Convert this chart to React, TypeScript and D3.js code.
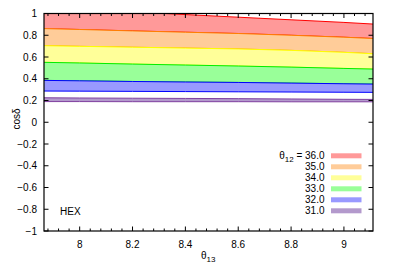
import * as d3 from 'd3';
import React from 'react';

const theta13 = [7.865, 8.0, 8.2, 8.4, 8.6, 8.8, 9.0, 9.11];

// upper / lower boundary of cos(delta) for each theta12 value
const upper36 = [1.06, 1.042, 1.016, 0.99, 0.966, 0.942, 0.918, 0.903];
const upper35 = [0.861, 0.853, 0.84, 0.828, 0.816, 0.8, 0.782, 0.77];
const upper34 = [0.704, 0.698, 0.69, 0.682, 0.674, 0.661, 0.643, 0.63];
const upper33 = [0.551, 0.545, 0.535, 0.526, 0.517, 0.507, 0.495, 0.489];
const upper32 = [0.385, 0.381, 0.375, 0.37, 0.366, 0.36, 0.354, 0.351];
const lower32 = [0.287, 0.286, 0.284, 0.282, 0.28, 0.278, 0.276, 0.275];
const upper31 = [0.225, 0.223, 0.221, 0.219, 0.217, 0.214, 0.211, 0.21];
const lower31 = [0.19, 0.19, 0.189, 0.189, 0.189, 0.188, 0.188, 0.188];

const theta12Labels = ['36.0', '35.0', '34.0', '33.0', '32.0', '31.0'];
const fills = ['#ff9999', '#ffcc99', '#ffff99', '#99ff99', '#9999ff', '#b399cc'];
const strokes = ['#ff0000', '#ff8000', '#ffff00', '#00ee00', '#0000ff', '#7f3f9f'];

const bands = [
  { top: upper36, bottom: upper35 },
  { top: upper35, bottom: upper34 },
  { top: upper34, bottom: upper33 },
  { top: upper33, bottom: upper32 },
  { top: upper32, bottom: lower32 },
  { top: upper31, bottom: lower31 },
];

const xTicks = [8, 8.2, 8.4, 8.6, 8.8, 9];
const yTicks = [-1, -0.8, -0.6, -0.4, -0.2, 0, 0.2, 0.4, 0.6, 0.8, 1];

const W = 399;
const H = 279;
const left = 44;
const right = 373;
const top = 13.5;
const bottom = 231;

const font = 'Liberation Sans, Arial, Helvetica, sans-serif';

export default function App() {
  const x = d3.scaleLinear().domain([7.865, 9.11]).range([left, right]);
  const y = d3.scaleLinear().domain([-1, 1]).range([bottom, top]);

  const minorX = d3.range(7.88, 9.11, 0.04).filter(
    (v) => !xTicks.some((t) => Math.abs(t - v) < 1e-6)
  );

  const area = d3
    .area<number>()
    .x((_, i) => x(theta13[i]))
    .y0((_, i) => 0)
    .y1((d) => y(d));

  const line = d3
    .line<number>()
    .x((_, i) => x(theta13[i]))
    .y((d) => y(d));

  return (
    <svg
      width={W}
      height={H}
      style={{ position: 'absolute', left: 0, top: 0, background: '#fff' }}
      fontFamily={font}
    >
      <defs>
        <clipPath id="plot">
          <rect x={left} y={top} width={right - left} height={bottom - top} />
        </clipPath>
      </defs>

      <g clipPath="url(#plot)">
        {bands.map((b, k) => {
          const a = d3
            .area<number>()
            .x((_, i) => x(theta13[i]))
            .y0((_, i) => y(b.bottom[i]))
            .y1((d) => y(d));
          return (
            <g key={k}>
              <path d={a(b.top) || ''} fill={fills[k]} stroke="none" />
              <path d={line(b.top) || ''} fill="none" stroke={strokes[k]} strokeWidth={1} />
              <path d={line(b.bottom) || ''} fill="none" stroke={strokes[k]} strokeWidth={1} />
            </g>
          );
        })}
      </g>

      {/* ticks */}
      <g stroke="#000" strokeWidth={1}>
        {xTicks.map((t) => (
          <g key={t}>
            <line x1={x(t)} x2={x(t)} y1={bottom} y2={bottom - 4.5} />
            <line x1={x(t)} x2={x(t)} y1={top} y2={top + 4.5} />
          </g>
        ))}
        {minorX.map((t) => (
          <g key={t}>
            <line x1={x(t)} x2={x(t)} y1={bottom} y2={bottom - 2.5} />
            <line x1={x(t)} x2={x(t)} y1={top} y2={top + 2.5} />
          </g>
        ))}
        {yTicks.map((t) => (
          <g key={t}>
            <line x1={left} x2={left + 4.5} y1={y(t)} y2={y(t)} />
            <line x1={right} x2={right - 4.5} y1={y(t)} y2={y(t)} />
          </g>
        ))}
      </g>

      <rect
        x={left}
        y={top}
        width={right - left}
        height={bottom - top}
        fill="none"
        stroke="#000"
        strokeWidth={1.2}
      />

      {/* tick labels */}
      <g fontSize={10} fill="#000">
        {xTicks.map((t) => (
          <text key={t} x={x(t)} y={248} textAnchor="middle">
            {d3.format('~g')(t)}
          </text>
        ))}
        {yTicks.map((t) => (
          <text key={t} x={37} y={y(t) + 3.5} textAnchor="end">
            {d3.format('~g')(t)}
          </text>
        ))}
      </g>

      {/* axis titles */}
      <text x={201} y={259} fontSize={10}>
        θ<tspan fontSize={8} dy={3}>13</tspan>
      </text>
      <text
        transform={`translate(20,119) rotate(-90)`}
        textAnchor="middle"
        fontSize={10}
      >
        cosδ
      </text>

      <text x={60} y={214.5} fontSize={10}>
        HEX
      </text>

      {/* legend */}
      <g fontSize={10}>
        {theta12Labels.map((lab, k) => {
          const cy = 155.8 + k * 11;
          return (
            <g key={lab}>
              <text x={324.5} y={cy + 3.5} textAnchor="end">
                {k === 0 ? (
                  <>
                    θ<tspan fontSize={8} dy={3}>12</tspan>
                    <tspan dy={-3}> = {lab}</tspan>
                  </>
                ) : (
                  lab
                )}
              </text>
              <rect x={331} y={cy - 2.5} width={30.5} height={5} fill={fills[k]} />
            </g>
          );
        })}
      </g>
    </svg>
  );
}
